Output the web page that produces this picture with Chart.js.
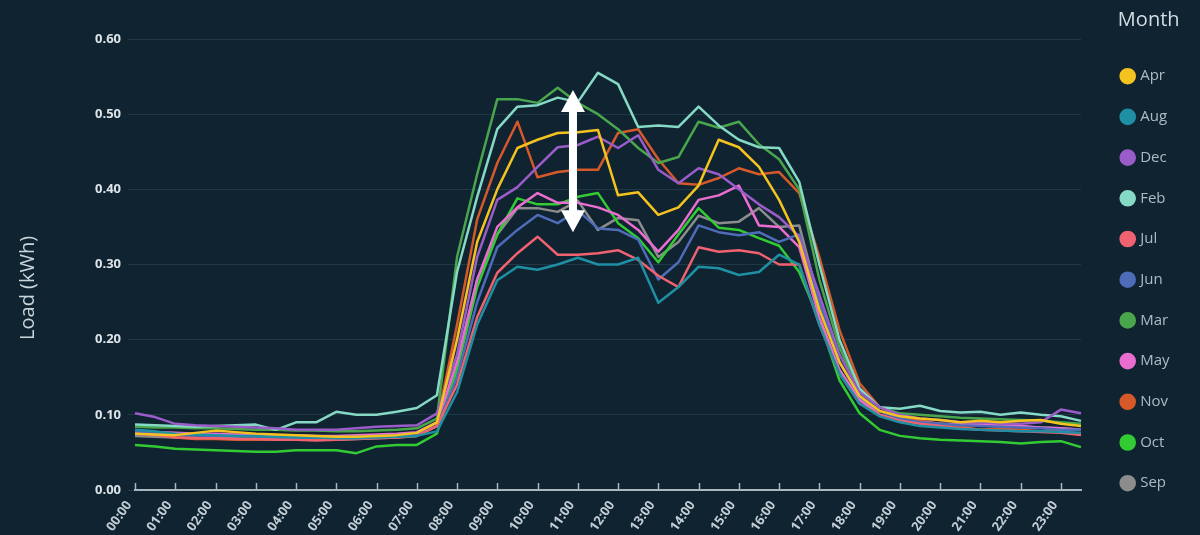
<!DOCTYPE html>
<html>
<head>
<meta charset="utf-8">
<title>Load by month</title>
<script src="https://cdn.jsdelivr.net/npm/chart.js@4.4.1/dist/chart.umd.min.js"></script>
<style>
  html, body { margin: 0; padding: 0; background: #0f2331; overflow: hidden; width: 1200px; height: 535px; }
  canvas { display: block; }
</style>
</head>
<body>
<canvas id="loadChart" width="1200" height="560"></canvas>
<script>
// half-hour slots on the x axis
const slots = ['00:00','00:30','01:00','01:30','02:00','02:30','03:00','03:30','04:00','04:30','05:00','05:30',
  '06:00','06:30','07:00','07:30','08:00','08:30','09:00','09:30','10:00','10:30','11:00','11:30',
  '12:00','12:30','13:00','13:30','14:00','14:30','15:00','15:30','16:00','16:30','17:00','17:30',
  '18:00','18:30','19:00','19:30','20:00','20:30','21:00','21:30','22:00','22:30','23:00','23:30'];

const months = ['Apr', 'Aug', 'Dec', 'Feb', 'Jul', 'Jun', 'Mar', 'May', 'Nov', 'Oct', 'Sep'];
const monthColors = ['#f5c320', '#1f8fa3', '#9a5cc8', '#86d9c4', '#f0626f', '#4f6cb9',
  '#4aa64c', '#e96ed0', '#d6592a', '#33cb33', '#8c8c8c'];

const yTicks = [0, 0.1, 0.2, 0.3, 0.4, 0.5, 0.6];

// average load (kWh) per half hour
const apr = [0.075,0.074,0.073,0.076,0.079,0.077,0.075,0.074,0.073,0.072,0.071,0.071,0.072,0.073,0.076,0.09,
  0.20,0.33,0.40,0.455,0.466,0.475,0.476,0.479,0.392,0.396,0.366,0.376,0.405,0.466,0.456,0.43,0.386,0.33,
  0.24,0.17,0.125,0.105,0.098,0.095,0.093,0.09,0.092,0.09,0.092,0.093,0.088,0.085];
const aug = [0.08,0.078,0.075,0.074,0.073,0.072,0.072,0.071,0.07,0.07,0.069,0.069,0.07,0.071,0.072,0.078,
  0.13,0.22,0.279,0.297,0.293,0.30,0.309,0.30,0.30,0.309,0.249,0.27,0.297,0.295,0.286,0.29,0.313,0.30,
  0.22,0.155,0.115,0.098,0.09,0.085,0.083,0.081,0.08,0.079,0.078,0.078,0.077,0.076];
const dec = [0.102,0.097,0.088,0.086,0.085,0.084,0.083,0.082,0.08,0.08,0.08,0.082,0.084,0.085,0.086,0.102,
  0.18,0.31,0.386,0.403,0.43,0.456,0.459,0.47,0.455,0.472,0.426,0.408,0.428,0.42,0.40,0.38,0.363,0.337,
  0.26,0.18,0.13,0.11,0.1,0.095,0.093,0.09,0.09,0.088,0.088,0.09,0.107,0.102];
const feb = [0.087,0.086,0.085,0.084,0.085,0.086,0.087,0.08,0.09,0.09,0.104,0.10,0.10,0.104,0.109,0.126,
  0.29,0.39,0.48,0.51,0.512,0.522,0.516,0.555,0.54,0.483,0.485,0.483,0.51,0.485,0.466,0.456,0.455,0.41,
  0.30,0.20,0.135,0.11,0.108,0.112,0.105,0.103,0.104,0.1,0.103,0.1,0.098,0.092];
const jul = [0.075,0.073,0.07,0.069,0.069,0.068,0.068,0.067,0.067,0.066,0.067,0.068,0.069,0.07,0.072,0.085,
  0.14,0.23,0.289,0.315,0.337,0.313,0.313,0.315,0.319,0.306,0.285,0.27,0.323,0.317,0.319,0.315,0.30,0.30,
  0.22,0.155,0.115,0.1,0.092,0.088,0.085,0.082,0.08,0.079,0.078,0.077,0.076,0.073];
const jun = [0.078,0.076,0.074,0.073,0.072,0.072,0.071,0.07,0.07,0.069,0.07,0.071,0.072,0.073,0.075,0.085,
  0.15,0.25,0.323,0.346,0.366,0.355,0.372,0.348,0.346,0.333,0.28,0.303,0.352,0.343,0.339,0.343,0.33,0.34,
  0.25,0.17,0.125,0.105,0.095,0.09,0.088,0.086,0.085,0.084,0.083,0.082,0.08,0.08];
const mar = [0.084,0.083,0.083,0.082,0.082,0.081,0.08,0.08,0.079,0.079,0.078,0.078,0.079,0.08,0.082,0.095,
  0.31,0.42,0.52,0.52,0.515,0.535,0.515,0.50,0.48,0.455,0.435,0.443,0.49,0.482,0.49,0.46,0.44,0.40,
  0.28,0.19,0.13,0.11,0.102,0.1,0.098,0.096,0.095,0.094,0.093,0.092,0.09,0.088];
const may = [0.078,0.077,0.076,0.075,0.075,0.074,0.074,0.073,0.073,0.072,0.072,0.073,0.074,0.075,0.077,0.09,
  0.17,0.28,0.35,0.376,0.395,0.382,0.382,0.376,0.366,0.346,0.317,0.346,0.386,0.392,0.405,0.352,0.35,0.323,
  0.23,0.16,0.12,0.1,0.093,0.09,0.088,0.087,0.087,0.086,0.085,0.083,0.082,0.08];
const nov = [0.075,0.074,0.07,0.068,0.068,0.067,0.067,0.067,0.068,0.068,0.068,0.069,0.07,0.072,0.075,0.09,
  0.22,0.36,0.435,0.49,0.416,0.423,0.426,0.426,0.475,0.48,0.44,0.408,0.406,0.415,0.428,0.42,0.423,0.395,
  0.31,0.213,0.142,0.11,0.098,0.092,0.088,0.085,0.08,0.082,0.08,0.078,0.078,0.075];
const oct = [0.06,0.058,0.055,0.054,0.053,0.052,0.051,0.051,0.053,0.053,0.053,0.049,0.058,0.06,0.06,0.075,
  0.16,0.27,0.34,0.388,0.38,0.38,0.39,0.395,0.355,0.335,0.303,0.34,0.375,0.349,0.346,0.335,0.325,0.29,
  0.226,0.146,0.102,0.08,0.072,0.069,0.067,0.066,0.065,0.064,0.062,0.064,0.065,0.057];
const sep = [0.072,0.071,0.07,0.07,0.069,0.069,0.068,0.068,0.068,0.067,0.067,0.068,0.069,0.07,0.072,0.085,
  0.17,0.28,0.34,0.375,0.375,0.37,0.385,0.346,0.362,0.359,0.31,0.33,0.365,0.355,0.357,0.375,0.35,0.352,
  0.25,0.17,0.125,0.1,0.092,0.09,0.088,0.087,0.086,0.085,0.084,0.083,0.082,0.08];

const series = [apr, aug, dec, feb, jul, jun, mar, may, nov, oct, sep];

const axisColor = '#a9b7c1';
Chart.defaults.font.family = "'Open Sans', 'Noto Sans', sans-serif";

// small tick marks pointing up from the x axis, one per hour
const hourTicks = {
  id: 'hourTicks',
  afterDatasetsDraw(chart) {
    const xs = chart.scales.x;
    const ctx = chart.ctx;
    ctx.save();
    ctx.strokeStyle = axisColor;
    ctx.lineWidth = 1.5;
    for (let i = 0; i < slots.length; i += 2) {
      const px = Math.round(xs.getPixelForValue(i)) + 0.5;
      ctx.beginPath();
      ctx.moveTo(px, xs.top);
      ctx.lineTo(px, xs.top - 7);
      ctx.stroke();
    }
    ctx.restore();
  }
};

// white double arrow marking the spread between months
const rangeArrow = {
  id: 'rangeArrow',
  afterDatasetsDraw(chart, args, opts) {
    const { x, y } = chart.scales;
    const ctx = chart.ctx;
    const px = x.getPixelForValue(opts.at);
    const top = y.getPixelForValue(opts.to);
    const bot = y.getPixelForValue(opts.from);
    const head = 22, half = 12, shaft = 4;
    ctx.save();
    ctx.fillStyle = '#ffffff';
    ctx.beginPath();
    ctx.moveTo(px, top);
    ctx.lineTo(px + half, top + head);
    ctx.lineTo(px + shaft, top + head);
    ctx.lineTo(px + shaft, bot - head);
    ctx.lineTo(px + half, bot - head);
    ctx.lineTo(px, bot);
    ctx.lineTo(px - half, bot - head);
    ctx.lineTo(px - shaft, bot - head);
    ctx.lineTo(px - shaft, top + head);
    ctx.lineTo(px - half, top + head);
    ctx.closePath();
    ctx.fill();
    ctx.restore();
  }
};

const datasets = months.map((m, i) => ({
  label: m,
  data: series[i],
  borderColor: monthColors[i],
  backgroundColor: monthColors[i],
  borderWidth: 2.5,
  borderJoinStyle: 'round',
  pointRadius: 0,
  tension: 0
}));

new Chart(document.getElementById('loadChart'), {
  type: 'line',
  data: { labels: slots, datasets },
  plugins: [hourTicks, rangeArrow],
  options: {
    responsive: false,
    animation: false,
    events: [],
    layout: { padding: { left: 0, top: 0, bottom: 0, right: 0 } },
    scales: {
      x: {
        ticks: {
          autoSkip: false,
          minRotation: 55,
          maxRotation: 55,
          padding: 8,
          labelOffset: -6,
          color: '#c3cdd5',
          font: { size: 13, weight: 'bold' },
          callback(value, index) { return index % 2 ? '' : this.getLabelForValue(value); }
        },
        grid: { display: false, drawTicks: false },
        border: { display: true, color: axisColor, width: 2 },
        afterFit(s) { s.height = 70; s.paddingRight = 119; }
      },
      y: {
        min: yTicks[0],
        max: yTicks[yTicks.length - 1],
        afterBuildTicks(s) { s.ticks = yTicks.map(v => ({ value: v })); },
        ticks: {
          color: '#dde4e9',
          padding: 7,
          font: { size: 13, weight: 'bold' },
          callback: v => v.toFixed(2)
        },
        grid: { color: '#1f3847', lineWidth: 1, tickLength: 7 },
        border: { display: false },
        title: {
          display: true,
          // trailing spaces push the centred title a little lower, as in the original
          text: 'Load (kWh)         ',
          color: '#c9d4db',
          font: { size: 20 },
          padding: { top: 16, bottom: 0 }
        },
        afterFit(s) { s.width = 135; s.paddingTop = 39; }
      },
      // empty spacer between the plot and the legend
      gap: {
        position: 'right',
        display: true,
        ticks: { display: false },
        grid: { display: false },
        border: { display: false },
        afterFit(s) { s.width = 16; }
      }
    },
    plugins: {
      tooltip: { enabled: false },
      rangeArrow: { at: 21.76, from: 0.343, to: 0.532 },
      legend: {
        position: 'right',
        align: 'start',
        title: {
          display: true,
          text: 'Month',
          position: 'end',
          color: '#d3dde3',
          font: { size: 20 },
          padding: { top: 10, bottom: 9 }
        },
        labels: {
          usePointStyle: true,
          pointStyle: 'circle',
          boxWidth: 10,
          boxHeight: 10,
          padding: 25.7,
          color: '#aebbc4',
          font: { size: 15 }
        }
      }
    }
  }
});
</script>
</body>
</html>
